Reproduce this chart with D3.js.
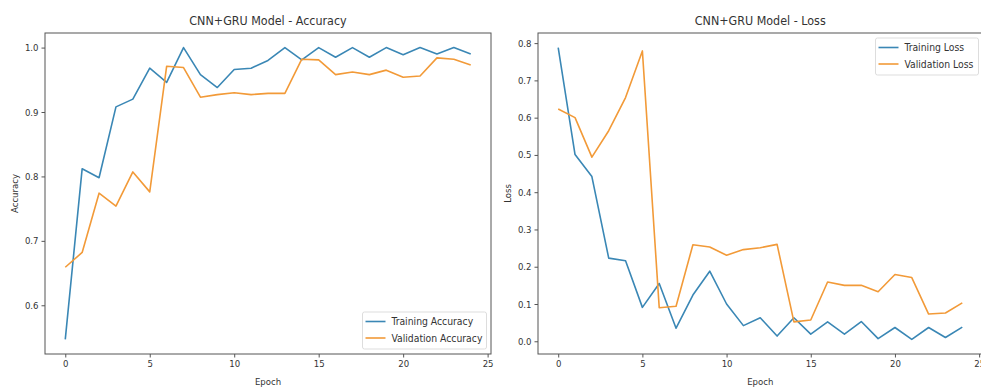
<!DOCTYPE html>
<html><head><meta charset="utf-8">
<script src="https://cdn.jsdelivr.net/npm/d3@7"></script>
<style>
html,body{margin:0;padding:0;background:#fff;}
svg text{font-family:"DejaVu Sans Condensed","DejaVu Sans",sans-serif;font-stretch:condensed;fill:#333;}
</style></head><body>
<svg id="c" width="981" height="387"></svg>
<script>
const epochs = d3.range(0, 25);
const trainAcc = [0.547,0.812,0.798,0.908,0.920,0.968,0.946,1.000,0.958,0.938,0.966,0.968,0.980,1.000,0.981,1.000,0.985,1.000,0.985,1.000,0.989,1.000,0.990,1.000,0.990];
const valAcc = [0.659,0.682,0.774,0.754,0.807,0.776,0.971,0.969,0.923,0.927,0.930,0.927,0.929,0.929,0.982,0.981,0.958,0.962,0.958,0.965,0.954,0.956,0.984,0.982,0.973];
const trainLoss = [0.788,0.501,0.442,0.223,0.216,0.091,0.155,0.035,0.124,0.188,0.100,0.042,0.063,0.014,0.063,0.019,0.052,0.019,0.053,0.007,0.037,0.005,0.037,0.010,0.038];
const valLoss = [0.623,0.600,0.494,0.565,0.654,0.779,0.090,0.094,0.259,0.253,0.231,0.246,0.251,0.260,0.052,0.057,0.159,0.150,0.150,0.133,0.179,0.171,0.073,0.076,0.103];
const xTicks = [0,5,10,15,20,25];
const accTicks = [0.6,0.7,0.8,0.9,1.0];
const lossTicks = [0.0,0.1,0.2,0.3,0.4,0.5,0.6,0.7,0.8];
const titles = ["CNN+GRU Model - Accuracy","CNN+GRU Model - Loss"];
const yLabels = ["Accuracy","Loss"];
const legendAcc = ["Training Accuracy","Validation Accuracy"];
const legendLoss = ["Training Loss","Validation Loss"];
const colors = ["#3a87b5","#f29a38"];

const svg = d3.select("#c");

function panel(cfg){
  const g = svg.append("g");
  const x = d3.scaleLinear().domain([-1.2,25.2]).range([cfg.left,cfg.right]);
  const lo = Math.min(d3.min(cfg.s1),d3.min(cfg.s2)), hi = Math.max(d3.max(cfg.s1),d3.max(cfg.s2));
  const m = (hi-lo)*0.05;
  const y = d3.scaleLinear().domain([lo-m,hi+m]).range([cfg.bottom,cfg.top]);
  const line = d3.line().x((d,i)=>x(epochs[i])).y(d=>y(d));
  [cfg.s1,cfg.s2].forEach((s,k)=>{
    g.append("path").attr("d",line(s)).attr("fill","none").attr("stroke",colors[k]).attr("stroke-width",1.6).attr("stroke-linejoin","round");
  });
  g.append("rect").attr("x",cfg.left).attr("y",cfg.top).attr("width",cfg.right-cfg.left).attr("height",cfg.bottom-cfg.top)
    .attr("fill","none").attr("stroke","#555").attr("stroke-width",1);
  const xa = g.append("g").attr("transform",`translate(0,${cfg.bottom})`)
    .call(d3.axisBottom(x).tickValues(xTicks).tickSize(3.5).tickPadding(3).tickFormat(d3.format("d")));
  const ya = g.append("g").attr("transform",`translate(${cfg.left},0)`)
    .call(d3.axisLeft(y).tickValues(cfg.yTicks).tickSize(3.5).tickPadding(3).tickFormat(d3.format(".1f")));
  [xa,ya].forEach(a=>{
    a.select(".domain").remove();
    a.selectAll("line").attr("stroke","#555");
    a.selectAll("text").attr("font-size",9.5).attr("fill","#333").style("font-family",null);
  });
  g.append("text").attr("x",(cfg.left+cfg.titleRight)/2).attr("y",25).attr("text-anchor","middle").attr("font-size",12.4).text(cfg.title);
  g.append("text").attr("x",(cfg.left+cfg.titleRight)/2).attr("y",385).attr("text-anchor","middle").attr("font-size",9.5).text("Epoch");
  g.append("text").attr("transform",`translate(${cfg.ylx},${(cfg.top+cfg.bottom)/2}) rotate(-90)`).attr("text-anchor","middle").attr("font-size",9.5).text(cfg.ylabel);
  const L = cfg.legend;
  g.append("rect").attr("x",L.x).attr("y",L.y).attr("width",L.w).attr("height",L.h).attr("rx",2)
    .attr("fill","#fff").attr("fill-opacity",0.8).attr("stroke","#ddd");
  L.labels.forEach((t,i)=>{
    const yy = L.y+9.5+i*16.5;
    g.append("line").attr("x1",L.x+3).attr("x2",L.x+23).attr("y1",yy).attr("y2",yy).attr("stroke",colors[i]).attr("stroke-width",1.6);
    g.append("text").attr("x",L.x+29).attr("y",yy+3.6).attr("font-size",10.3).text(t);
  });
}

panel({left:45,right:491,top:33,bottom:354,titleRight:491,s1:trainAcc,s2:valAcc,yTicks:accTicks,title:titles[0],ylabel:yLabels[0],ylx:18,
  legend:{x:362.5,y:312,w:124,h:37,labels:legendAcc}});
panel({left:538,right:982.5,top:33,bottom:354,titleRight:982.5,s1:trainLoss,s2:valLoss,yTicks:lossTicks,title:titles[1],ylabel:yLabels[1],ylx:511,
  legend:{x:875.5,y:38,w:103,h:37,labels:legendLoss}});
</script>
</body></html>
